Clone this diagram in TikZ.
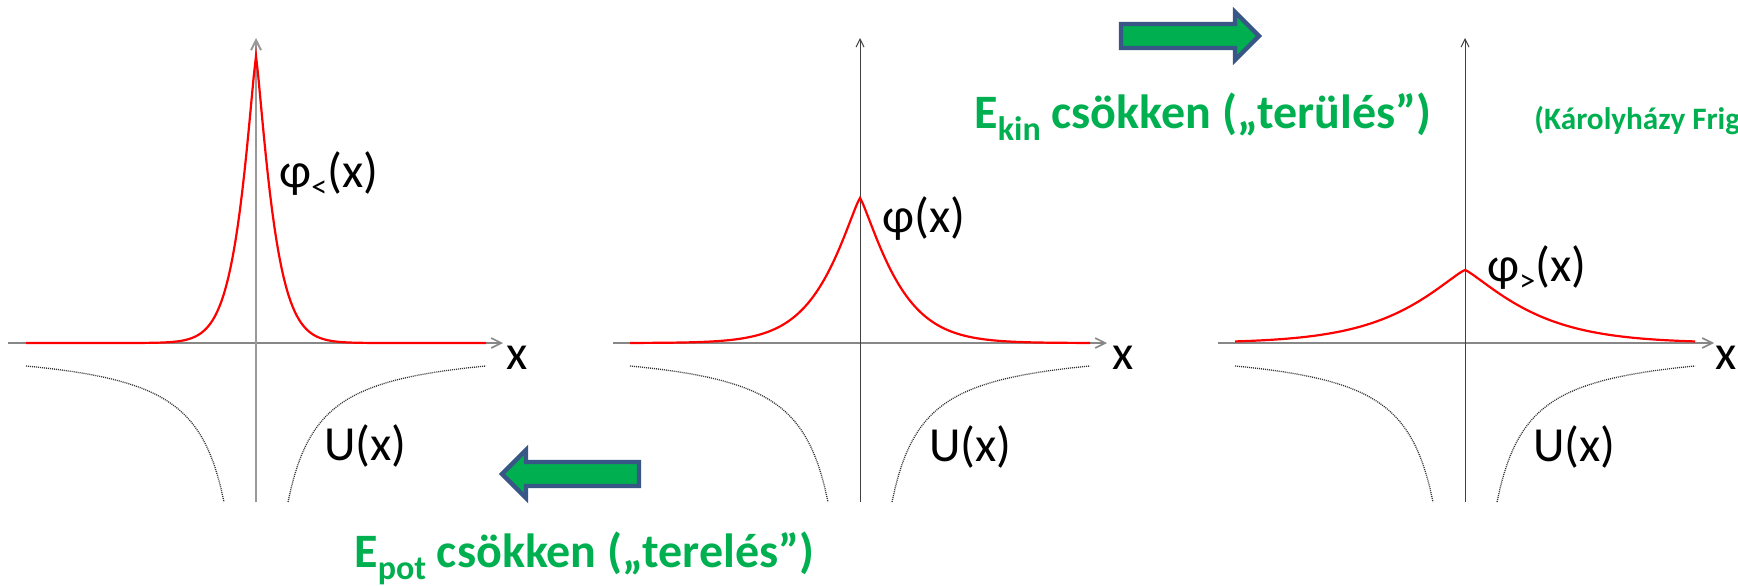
\documentclass[tikz,border=0pt]{standalone}
\usepackage{fontspec}
\setmainfont{Carlito}
\usepackage{tikz}
\usetikzlibrary{arrows.meta}
\definecolor{officegreen}{RGB}{0,176,80}
\definecolor{arrowblue}{RGB}{56,87,135}
\definecolor{axisgray}{RGB}{135,135,135}

\begin{document}
\begin{tikzpicture}[x=0.5pt,y=-0.5pt]
  \tikzstyle{axis}=[draw=axisgray,line width=0.8pt,-{Straight Barb[length=5pt,width=5pt]}]
  \tikzstyle{thinaxis}=[draw=black!75,line width=0.5pt,-{Straight Barb[length=4pt,width=4pt]}]
  \tikzstyle{wave}=[draw=red,line width=1.1pt]
  \tikzstyle{pot}=[draw=black!80,line width=0.65pt,dash pattern=on 0.5pt off 0.5pt]
  \tikzstyle{lbl}=[inner sep=0pt,anchor=base west,font=\fontsize{24.5}{29}\selectfont]
  \tikzstyle{energy}=[inner sep=0pt,anchor=base west,text=officegreen,font=\fontsize{24}{28}\selectfont\bfseries]
  \tikzstyle{note}=[inner sep=0pt,anchor=base west,text=officegreen,font=\fontsize{15.6}{18}\selectfont\bfseries]
  \tikzstyle{bigarrow}=[fill=officegreen,draw=arrowblue,line width=2.2pt,line join=miter]
  \useasboundingbox (0,0) rectangle (1738,585);

  % narrow state
  \draw[axis] (8,343) -- (503,343);
  \draw[axis,draw=black!40,line width=1pt] (256,502) -- (256,38);
  \draw[wave] plot[domain=-230:230,samples=201] ({256+\x},{343-287*exp(-1*((abs(\x)+0.01)/20)^1.2)});
  \draw[pot] plot[domain=-230:-32,samples=60] ({256+\x},{344+5056/abs(\x)});
  \draw[pot] plot[domain=32:230,samples=60] ({256+\x},{344+5056/\x});
  \node[lbl] (phi1) at (279,187) {φ\raisebox{-5pt}{\fontsize{16}{16}\selectfont <}(x)};
  \node[lbl] (x1) at (506,369) {x};
  \node[lbl] (u1) at (324,460) {U(x)};

  % ground state
  \draw[axis] (613,343) -- (1107,343);
  \draw[thinaxis] (860,502) -- (860,38);
  \draw[wave] plot[domain=-230:230,samples=201] ({860+\x},{343-145*exp(-1*((abs(\x)+0.01)/42)^1.2)});
  \draw[pot] plot[domain=-230:-32,samples=60] ({860+\x},{344+5056/abs(\x)});
  \draw[pot] plot[domain=32:230,samples=60] ({860+\x},{344+5056/\x});
  \node[lbl] (phi2) at (882,232) {φ(x)};
  \node[lbl] (x2) at (1112,369) {x};
  \node[lbl] (u2) at (929,461) {U(x)};

  % wide state
  \draw[axis] (1218,343) -- (1714,343);
  \draw[thinaxis] (1465,502) -- (1465,38);
  \draw[wave] plot[domain=-230:230,samples=201] ({1465+\x},{343-73*exp(-1*((abs(\x)+0.01)/75)^1.2)});
  \draw[pot] plot[domain=-230:-32,samples=60] ({1465+\x},{344+5056/abs(\x)});
  \draw[pot] plot[domain=32:230,samples=60] ({1465+\x},{344+5056/\x});
  \node[lbl] (phi3) at (1487,281) {φ\raisebox{-5pt}{\fontsize{16}{16}\selectfont >}(x)};
  \node[lbl] (x3) at (1715,369) {x};
  \node[lbl] (u3) at (1533,461) {U(x)};

  % arrows and captions
  \draw[bigarrow] (1121,24) -- (1235,24) -- (1235,12) -- (1259,36) -- (1235,60) -- (1235,48) -- (1121,48) -- cycle;
  \draw[bigarrow] (639,462) -- (526,462) -- (526,450) -- (502,474) -- (526,498) -- (526,486) -- (639,486) -- cycle;
  \node[energy] (ekin) at (974,128) {E\raisebox{-6pt}{\fontsize{17}{17}\selectfont kin} csökken („terülés”)};
  \node[energy] (epot) at (354,567) {E\raisebox{-6pt}{\fontsize{17}{17}\selectfont pot} csökken („terelés”)};
  \begin{scope}
    \clip (0,0) rectangle (1738,585);
    \node[note] (karoly) at (1534,129) {(Károlyházy Frigyes)};
  \end{scope}
\end{tikzpicture}
\end{document}
